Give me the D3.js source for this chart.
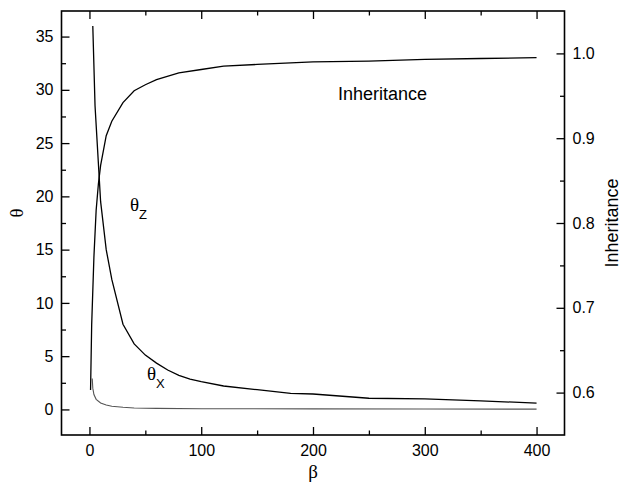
<!DOCTYPE html>
<html>
<head>
<meta charset="utf-8">
<script src="https://cdn.jsdelivr.net/npm/d3@7/dist/d3.min.js"></script>
<style>
  html, body { margin: 0; padding: 0; background: #fff; }
  svg text { font-family: "Liberation Sans", Arial, sans-serif; fill: #000; }
  svg text.greek, svg tspan.greek { font-family: "Liberation Serif", "Times New Roman", serif; }
</style>
</head>
<body>
<svg id="chart" width="621" height="484"></svg>
<script>
// θ (left axis) — steeply falling curve
const betaZ  = [3, 5, 10, 15, 20, 30, 40, 50, 60, 70, 80, 90, 100, 120, 150, 180, 200, 250, 300, 350, 400];
const thetaZ = [36, 28.5, 19.5, 15, 12.2, 8.0, 6.15, 5.1, 4.35, 3.7, 3.2, 2.85, 2.6, 2.2, 1.85, 1.5, 1.45, 1.05, 1.0, 0.8, 0.6];

// θ (left axis) — small curve close to zero
const betaX  = [2.5, 3, 4, 6, 10, 15, 20, 30, 40, 60, 100, 200, 300, 400];
const thetaX = [2.9, 2.0, 1.4, 0.95, 0.6, 0.42, 0.3, 0.2, 0.13, 0.1, 0.07, 0.05, 0.04, 0.03];

// Inheritance (right axis)
const betaI       = [1, 2, 4, 6, 8, 10, 15, 20, 30, 40, 50, 60, 80, 100, 120, 150, 200, 250, 300, 350, 400];
const inheritance = [0.603, 0.68, 0.76, 0.815, 0.846, 0.868, 0.903, 0.92, 0.942, 0.956, 0.963, 0.969, 0.977, 0.981, 0.985, 0.987, 0.99, 0.991, 0.993, 0.994, 0.995];

// Tick values
const betaTicks    = [0, 100, 200, 300, 400];
const betaMinor    = [50, 150, 250, 350];
const thetaTicks   = [0, 5, 10, 15, 20, 25, 30, 35];
const thetaMinor   = [2.5, 7.5, 12.5, 17.5, 22.5, 27.5, 32.5];
const inheritTicks = [0.6, 0.7, 0.8, 0.9, 1.0];
const inheritMinor = [0.65, 0.75, 0.85, 0.95];

const svg = d3.select("#chart");
const L = 61.5, R = 564.5, T = 11, B = 435;

const x  = d3.scaleLinear().domain([-25, 425]).range([L, R]);
const yL = d3.scaleLinear().domain([-2.4, 37.4]).range([B, T]);
const yR = d3.scaleLinear().domain([0.55, 1.05]).range([B, T]);

const MAJ = 8, MIN = 4.5;

function styleAxis(g) {
  g.select(".domain").remove();
  g.selectAll(".tick line").attr("stroke", "#000").attr("stroke-width", 1.3);
  g.selectAll(".tick text").style("font-size", "16px");
}

// bottom axis
svg.append("g").attr("transform", `translate(0,${B})`)
  .call(d3.axisBottom(x).tickValues(betaTicks).tickSize(-MAJ).tickPadding(10).tickFormat(d3.format("d")))
  .call(styleAxis);
svg.append("g").attr("transform", `translate(0,${B})`)
  .call(d3.axisBottom(x).tickValues(betaMinor).tickSize(-MIN).tickFormat(""))
  .call(styleAxis);
// top axis (mirror ticks)
svg.append("g").attr("transform", `translate(0,${T})`)
  .call(d3.axisTop(x).tickValues(betaTicks).tickSize(-MAJ).tickFormat(""))
  .call(styleAxis);
svg.append("g").attr("transform", `translate(0,${T})`)
  .call(d3.axisTop(x).tickValues(betaMinor).tickSize(-MIN).tickFormat(""))
  .call(styleAxis);
// left axis
svg.append("g").attr("transform", `translate(${L},0)`)
  .call(d3.axisLeft(yL).tickValues(thetaTicks).tickSize(-MAJ).tickPadding(8).tickFormat(d3.format("d")))
  .call(styleAxis);
svg.append("g").attr("transform", `translate(${L},0)`)
  .call(d3.axisLeft(yL).tickValues(thetaMinor).tickSize(-MIN).tickFormat(""))
  .call(styleAxis);
// right axis
svg.append("g").attr("transform", `translate(${R},0)`)
  .call(d3.axisRight(yR).tickValues(inheritTicks).tickSize(-MAJ).tickPadding(8).tickFormat(d3.format(".1f")))
  .call(styleAxis);
svg.append("g").attr("transform", `translate(${R},0)`)
  .call(d3.axisRight(yR).tickValues(inheritMinor).tickSize(-MIN).tickFormat(""))
  .call(styleAxis);

// frame
svg.append("rect")
  .attr("x", L).attr("y", T).attr("width", R - L).attr("height", B - T)
  .attr("fill", "none").attr("stroke", "#000").attr("stroke-width", 1.6);

// curves
const lineL = d3.line().x(d => x(d[0])).y(d => yL(d[1]));
const lineR = d3.line().x(d => x(d[0])).y(d => yR(d[1]));

svg.append("path").datum(d3.zip(betaX, thetaX))
  .attr("d", lineL).attr("fill", "none").attr("stroke", "#555").attr("stroke-width", 1.1);
svg.append("path").datum(d3.zip(betaZ, thetaZ))
  .attr("d", lineL).attr("fill", "none").attr("stroke", "#000").attr("stroke-width", 1.3);
svg.append("path").datum(d3.zip(betaI, inheritance))
  .attr("d", lineR).attr("fill", "none").attr("stroke", "#000").attr("stroke-width", 1.3);

// in-plot labels
svg.append("text").attr("x", 338).attr("y", 99.5)
  .style("font-size", "18px").text("Inheritance");

function thetaLabel(xp, yp, sub) {
  const t = svg.append("text").attr("x", xp).attr("y", yp);
  t.append("tspan").attr("class", "greek").style("font-size", "19px").text("θ");
  t.append("tspan").attr("dy", 8).style("font-size", "13px").text(sub);
}
thetaLabel(130, 211, "Z");
thetaLabel(147, 380, "X");

// axis titles
svg.append("text").attr("class", "greek").attr("x", (L + R) / 2).attr("y", 478)
  .attr("text-anchor", "middle").style("font-size", "19px").text("β");
svg.append("text").attr("class", "greek").attr("transform", "translate(23,213) rotate(-90)")
  .attr("text-anchor", "middle").style("font-size", "19px").text("θ");
svg.append("text").attr("transform", `translate(618,${(T + B) / 2}) rotate(-90)`)
  .attr("text-anchor", "middle").style("font-size", "18px").text("Inheritance");
</script>
</body>
</html>
